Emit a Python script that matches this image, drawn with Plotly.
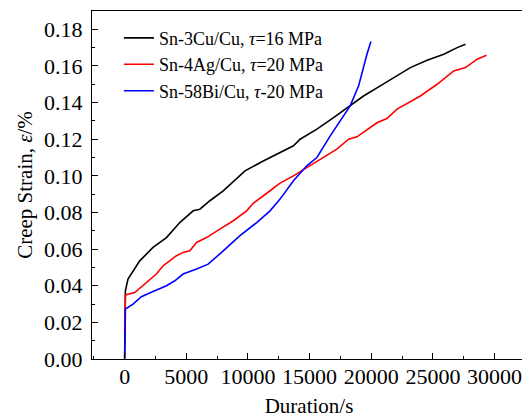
import plotly.graph_objects as go

# Sn-3Cu/Cu, tau=16 MPa
cu_x = [0, 0, 60, 270, 813, 1220, 2300, 3390, 4470, 5555, 6100, 6910, 7990, 9760, 11200, 12600,
        13690, 14230, 15590, 16940, 18290, 19370, 20730, 21810, 23170, 24530, 25880, 26970, 27640]
cu_y = [0.0, 0.020, 0.0373, 0.0436, 0.0491, 0.0536, 0.0609, 0.0663, 0.0745, 0.0809, 0.0818, 0.0864,
        0.0918, 0.1027, 0.1080, 0.1127, 0.1164, 0.1200, 0.1255, 0.1318, 0.1382, 0.1436, 0.1491,
        0.1536, 0.1591, 0.1631, 0.1664, 0.1700, 0.1718]

# Sn-4Ag/Cu, tau=20 MPa
ag_x = [0, 60, 813, 1490, 2575, 3115, 4200, 4740, 5285, 5830, 6640, 7720, 8810, 9890, 10430, 11520,
        12600, 13690, 14770, 16120, 17210, 18160, 18840, 20460, 21270, 22090, 23980, 25340, 26690,
        27640, 28590, 29350]
ag_y = [0.0150, 0.0350, 0.0363, 0.0400, 0.0464, 0.0509, 0.0564, 0.0582, 0.0591, 0.0636, 0.0663,
        0.0709, 0.0755, 0.0809, 0.0850, 0.0905, 0.0960, 0.1000, 0.1045, 0.1100, 0.1146, 0.1200,
        0.1213, 0.1290, 0.1313, 0.1364, 0.1436, 0.1500, 0.1573, 0.1591, 0.1637, 0.1658]

# Sn-58Bi/Cu, tau=20 MPa
bi_x = [0, 60, 677, 1355, 2300, 3390, 4065, 4740, 5830, 6770, 7860, 9350, 10710, 11790, 12600,
        13690, 14770, 15590, 16670, 18290, 18970, 19240, 19650, 19970]
bi_y = [0.0010, 0.0273, 0.0300, 0.0340, 0.0368, 0.0400, 0.0427, 0.0464, 0.0491, 0.0518, 0.0582,
        0.0673, 0.0745, 0.0809, 0.0873, 0.0973, 0.1055, 0.1100, 0.1218, 0.1382, 0.1490, 0.1564,
        0.1664, 0.1733]

names = ["Sn-3Cu/Cu, <i>τ</i>=16 MPa", "Sn-4Ag/Cu, <i>τ</i>=20 MPa", "Sn-58Bi/Cu, <i>τ</i>-20 MPa"]
colors = ["#000000", "#ff0000", "#0000ff"]

x_ticks = [0, 5000, 10000, 15000, 20000, 25000, 30000]
y_ticks = [0.00, 0.02, 0.04, 0.06, 0.08, 0.10, 0.12, 0.14, 0.16, 0.18]

FONT = "Liberation Serif, Times New Roman, serif"

fig = go.Figure()
for xs, ys, nm, c in zip([cu_x, ag_x, bi_x], [cu_y, ag_y, bi_y], names, colors):
    fig.add_trace(go.Scatter(x=xs, y=ys, mode="lines", name=nm,
                             line=dict(color=c, width=1.6)))

axis_common = dict(
    showline=True, linecolor="black", linewidth=1.3, mirror=True,
    ticks="inside", ticklen=6, tickwidth=1.3, tickcolor="black",
    showgrid=False, zeroline=False, automargin=False,
    tickfont=dict(family=FONT, size=22, color="black"),
)

# page body has an 8px margin, so the figure is 8px smaller and margins compensate
fig.update_layout(
    width=522, height=412,
    margin=dict(l=84, r=4, t=3, b=61),
    paper_bgcolor="white", plot_bgcolor="white",
    font=dict(family=FONT, color="black"),
    showlegend=True,
    legend=dict(x=0.062, y=0.975, xanchor="left", yanchor="top",
                bgcolor="rgba(0,0,0,0)", borderwidth=0,
                font=dict(family=FONT, size=18, color="black"),
                tracegroupgap=0, itemwidth=30),
    xaxis=dict(range=[-2650, 32550], tickvals=x_ticks,
               ticktext=[str(v) for v in x_ticks],
               minor=dict(dtick=2500, ticks="inside", ticklen=3, tickwidth=1.3, tickcolor="black"),
               ticklabelstandoff=-3,
               title=dict(text="Duration/s", font=dict(family=FONT, size=21, color="black"),
                          standoff=10),
               **axis_common),
    yaxis=dict(range=[0, 0.19], tickvals=y_ticks,
               ticktext=["%.2f" % v for v in y_ticks],
               minor=dict(dtick=0.01, ticks="inside", ticklen=3, tickwidth=1.3, tickcolor="black"),
               ticklabelstandoff=4,
               title=dict(text="Creep Strain, <i>ε</i>/%", font=dict(family=FONT, size=21, color="black"),
                          standoff=5),
               **axis_common),
)

fig.write_html("out.html")
